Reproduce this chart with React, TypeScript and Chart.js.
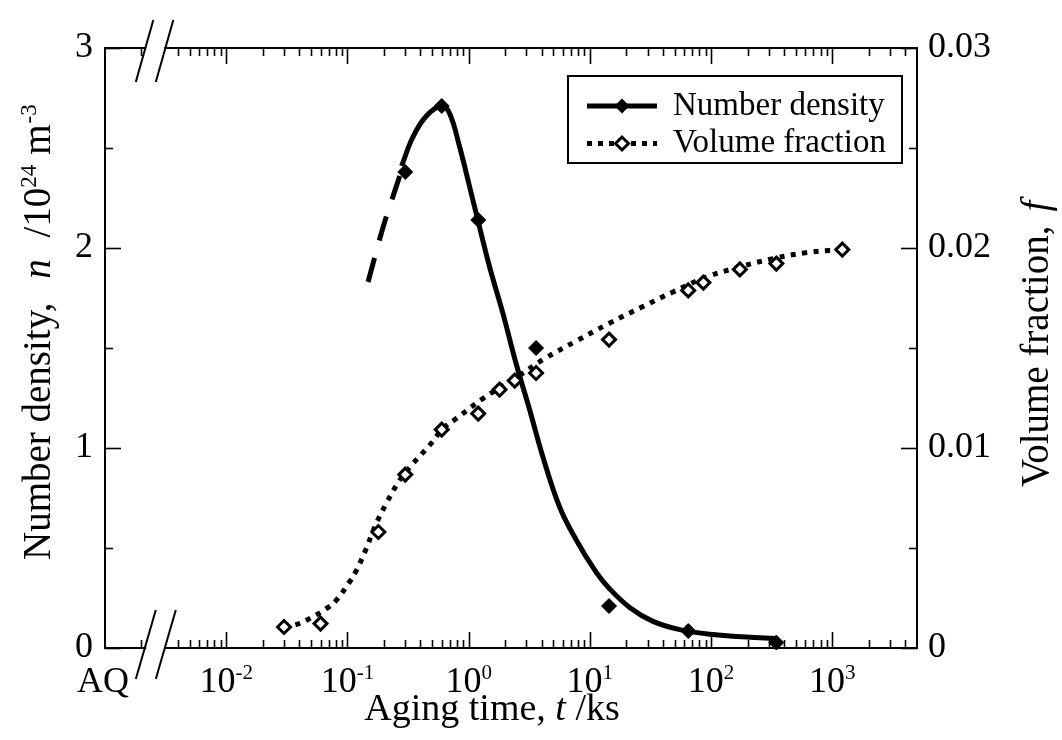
import React, { useEffect, useRef } from "react";
import { Chart, registerables } from "chart.js";

Chart.register(...registerables);

const FONT = '"Liberation Serif", "Times New Roman", serif';

// Number density markers (t in ks, n in 10^24 m^-3)
const ndTime = [0.3, 0.6, 1.2, 3.6, 14.4, 64.8, 345.6];
const ndValue = [2.38, 2.71, 2.14, 1.5, 0.21, 0.085, 0.027];

// Number density fitted curve (solid)
const ndCurveTime = [0.28, 0.347, 0.448, 0.6, 0.697, 0.843, 1.02, 1.19, 1.49, 1.92, 2.47, 3.19, 4.1, 5.63, 7.74, 11.3, 14.4, 21.3, 33.2, 55.1, 104, 195, 340];
const ndCurveValue = [2.41, 2.555, 2.66, 2.71, 2.672, 2.505, 2.305, 2.14, 1.905, 1.672, 1.42, 1.19, 0.955, 0.705, 0.539, 0.378, 0.299, 0.203, 0.133, 0.092, 0.067, 0.055, 0.047];

// Number density extrapolation (dashed)
const ndDashTime = [0.148, 0.196, 0.27];
const ndDashValue = [1.83, 2.1, 2.36];

// Volume fraction markers
const vfTime = [0.03, 0.06, 0.18, 0.3, 0.6, 1.2, 1.8, 2.4, 3.6, 14.4, 64.8, 86.4, 172.8, 345.6, 1209.6];
const vfValue = [0.00105, 0.00122, 0.0058, 0.00867, 0.01092, 0.01172, 0.01292, 0.01337, 0.01375, 0.01542, 0.01788, 0.01827, 0.01893, 0.01922, 0.01992];

// Volume fraction fitted curve (dotted)
const vfCurveTime = [0.03, 0.037, 0.046, 0.067, 0.081, 0.104, 0.118, 0.143, 0.168, 0.209, 0.27, 0.347, 0.477, 0.614, 0.79, 1.31, 2.05, 2.55, 4.24, 7.74, 14.6, 27.4, 48.5, 91.4, 172, 324, 611, 946, 1200];
const vfCurveValue = [0.00105, 0.00115, 0.00139, 0.00197, 0.00239, 0.0033, 0.00385, 0.00497, 0.00605, 0.00722, 0.00839, 0.00922, 0.01014, 0.01097, 0.01147, 0.01247, 0.01322, 0.01358, 0.01447, 0.01535, 0.01625, 0.01707, 0.0178, 0.01855, 0.01905, 0.01947, 0.01977, 0.01988, 0.0199];

// Axes
const xMin = 0.001;
const xMax = 5000;
const xBreakAt = 0.0026;
const xMajorTicks = [0.01, 0.1, 1, 10, 100, 1000];
const xMinorTicks = [
  0.002, 0.004, 0.005, 0.006, 0.007, 0.008, 0.009,
  0.02, 0.03, 0.04, 0.05, 0.06, 0.07, 0.08, 0.09,
  0.2, 0.3, 0.4, 0.5, 0.6, 0.7, 0.8, 0.9,
  2, 3, 4, 5, 6, 7, 8, 9,
  20, 30, 40, 50, 60, 70, 80, 90,
  200, 300, 400, 500, 600, 700, 800, 900,
  2000, 3000, 4000,
];
const xLabelValues = [0.001, 0.01, 0.1, 1, 10, 100, 1000];
const xLabelBase = ["AQ", "10", "10", "10", "10", "10", "10"];
const xLabelExp = ["", "-2", "-1", "0", "1", "2", "3"];

const yMajorTicks = [0, 1, 2, 3];
const yMinorTicks = [0.5, 1.5, 2.5];
const yLabels = ["0", "1", "2", "3"];
const y2Labels = ["0", "0.01", "0.02", "0.03"];
const y2LabelValues = [0, 0.01, 0.02, 0.03];

type Part = { t: string; it?: boolean; sup?: boolean; gap?: number };

function fontFor(p: Part, size: number) {
  const s = p.sup ? Math.round(size * 0.58) : size;
  return `${p.it ? "italic " : ""}${s}px ${FONT}`;
}

function drawRich(ctx: CanvasRenderingContext2D, parts: Part[], x: number, y: number, size: number, align: "left" | "center" | "right") {
  let total = 0;
  const widths: number[] = [];
  for (const p of parts) {
    ctx.font = fontFor(p, size);
    const w = ctx.measureText(p.t).width + (p.gap || 0);
    widths.push(w);
    total += w;
  }
  let cx = align === "left" ? x : align === "center" ? x - total / 2 : x - total;
  ctx.textAlign = "left";
  ctx.textBaseline = "alphabetic";
  parts.forEach((p, i) => {
    ctx.font = fontFor(p, size);
    ctx.fillText(p.t, cx + (p.gap || 0), p.sup ? y - size * 0.36 : y);
    cx += widths[i];
  });
}

function seg(ctx: CanvasRenderingContext2D, x1: number, y1: number, x2: number, y2: number) {
  ctx.beginPath();
  ctx.moveTo(x1, y1);
  ctx.lineTo(x2, y2);
  ctx.stroke();
}

function diamond(ctx: CanvasRenderingContext2D, x: number, y: number, r: number) {
  ctx.beginPath();
  ctx.moveTo(x - r, y);
  ctx.lineTo(x, y - r);
  ctx.lineTo(x + r, y);
  ctx.lineTo(x, y + r);
  ctx.closePath();
}

const deco = {
  id: "deco",
  afterDraw(chart: any) {
    const ctx: CanvasRenderingContext2D = chart.ctx;
    const { left, right, top, bottom } = chart.chartArea;
    const xs = chart.scales.x;
    const ys = chart.scales.y;
    const y2s = chart.scales.y2;
    ctx.save();
    ctx.strokeStyle = "#000";
    ctx.fillStyle = "#000";
    ctx.lineCap = "butt";

    // frame
    ctx.lineWidth = 2;
    ctx.strokeRect(left, top, right - left, bottom - top);

    // x ticks
    ctx.lineWidth = 1.6;
    for (const v of xMajorTicks) {
      const px = Math.round(xs.getPixelForValue(v)) + 0.5;
      seg(ctx, px, bottom, px, bottom - 16);
      seg(ctx, px, top, px, top + 16);
    }
    for (const v of xMinorTicks) {
      const px = Math.round(xs.getPixelForValue(v)) + 0.5;
      seg(ctx, px, bottom, px, bottom - 8);
      seg(ctx, px, top, px, top + 8);
    }
    // y ticks
    for (const v of yMajorTicks) {
      const py = Math.round(ys.getPixelForValue(v)) + 0.5;
      seg(ctx, left, py, left + 16, py);
      seg(ctx, right, py, right - 16, py);
    }
    for (const v of yMinorTicks) {
      const py = Math.round(ys.getPixelForValue(v)) + 0.5;
      seg(ctx, left, py, left + 8, py);
      seg(ctx, right, py, right - 8, py);
    }

    // axis break
    const bx = xs.getPixelForValue(xBreakAt);
    ctx.fillStyle = "#fff";
    ctx.fillRect(bx - 9, top - 2, 18, 4);
    ctx.fillRect(bx - 9, bottom - 2, 18, 4);
    ctx.fillStyle = "#000";
    ctx.lineWidth = 2;
    for (const dx of [-10, 10]) {
      seg(ctx, bx + dx + 10.5, bottom - 38, bx + dx - 9.5, bottom + 31);
      seg(ctx, bx + dx + 8, top - 28, bx + dx - 9.5, top + 34);
    }

    // x tick labels
    xLabelValues.forEach((v, i) => {
      const px = xs.getPixelForValue(v);
      const parts: Part[] = [{ t: xLabelBase[i] }];
      if (xLabelExp[i]) parts.push({ t: xLabelExp[i], sup: true });
      drawRich(ctx, parts, i === 0 ? px - 2 : px, bottom + 44, 36, "center");
    });

    // y tick labels
    ctx.font = `36px ${FONT}`;
    ctx.textBaseline = "middle";
    ctx.textAlign = "right";
    yMajorTicks.forEach((v, i) => {
      ctx.fillText(yLabels[i], left - 12, ys.getPixelForValue(v));
    });
    ctx.textAlign = "left";
    y2LabelValues.forEach((v, i) => {
      ctx.fillText(y2Labels[i], right + 11, y2s.getPixelForValue(v));
    });

    // axis titles
    drawRich(ctx, [{ t: "Aging time, " }, { t: "t", it: true }, { t: " /ks" }], (left + right) / 2 - 19, bottom + 72, 38, "center");

    ctx.save();
    ctx.translate(50, bottom - 88);
    ctx.rotate(-Math.PI / 2);
    drawRich(ctx, [
      { t: "Number density, " },
      { t: "n", it: true, gap: 14 },
      { t: " /10", gap: 12 },
      { t: "24", sup: true },
      { t: "m", gap: 10 },
      { t: "-3", sup: true, gap: 1 },
    ], 0, 0, 39, "left");
    ctx.restore();

    ctx.save();
    ctx.translate(right + 131, bottom - 161);
    ctx.rotate(-Math.PI / 2);
    drawRich(ctx, [{ t: "Volume fraction," }, { t: "f", it: true, gap: 14 }], 0, 0, 39, "left");
    ctx.restore();

    // legend
    const lx = right - 349;
    const ly = top + 28;
    const lw = 334;
    const lh = 87;
    ctx.fillStyle = "#fff";
    ctx.fillRect(lx, ly, lw, lh);
    ctx.lineWidth = 2;
    ctx.strokeStyle = "#000";
    ctx.strokeRect(lx, ly, lw, lh);
    const r1 = ly + 30;
    const r2 = ly + 67.5;
    ctx.lineWidth = 5;
    seg(ctx, lx + 19, r1, lx + 89, r1);
    ctx.setLineDash([5, 6]);
    seg(ctx, lx + 19, r2, lx + 89, r2);
    ctx.setLineDash([]);
    ctx.fillStyle = "#000";
    diamond(ctx, lx + 54, r1, 7.5);
    ctx.fill();
    diamond(ctx, lx + 54, r2, 6.5);
    ctx.fillStyle = "#fff";
    ctx.fill();
    ctx.lineWidth = 3;
    ctx.stroke();
    ctx.fillStyle = "#000";
    ctx.font = `33px ${FONT}`;
    ctx.textAlign = "left";
    ctx.textBaseline = "alphabetic";
    ctx.fillText("Number density", lx + 105, ly + 39);
    ctx.fillText("Volume fraction", lx + 105, ly + 76);

    ctx.restore();
  },
};

export default function App() {
  const ref = useRef<HTMLCanvasElement>(null);
  useEffect(() => {
    const pts = (xs: number[], ys: number[]) => xs.map((x, i) => ({ x, y: ys[i] }));
    const chart = new Chart(ref.current as HTMLCanvasElement, {
      type: "line",
      data: {
        datasets: [
          {
            label: "Number density",
            data: pts(ndTime, ndValue),
            showLine: false,
            pointStyle: "rectRot",
            pointRadius: 7.5,
            pointBackgroundColor: "#000",
            pointBorderColor: "#000",
            pointBorderWidth: 1,
            yAxisID: "y",
            order: 0,
            clip: false,
          } as any,
          {
            label: "Volume fraction",
            data: pts(vfTime, vfValue),
            showLine: false,
            pointStyle: "rectRot",
            pointRadius: 6.5,
            pointBackgroundColor: "#fff",
            pointBorderColor: "#000",
            pointBorderWidth: 3,
            yAxisID: "y2",
            order: 0,
            clip: false,
          } as any,
          {
            label: "nd curve",
            data: pts(ndCurveTime, ndCurveValue),
            borderColor: "#000",
            borderWidth: 5,
            pointRadius: 0,
            tension: 0.4,
            fill: false,
            yAxisID: "y",
            order: 1,
            clip: false,
          } as any,
          {
            label: "nd dash",
            data: pts(ndDashTime, ndDashValue),
            borderColor: "#000",
            borderWidth: 5,
            borderDash: [25, 18],
            pointRadius: 0,
            tension: 0.3,
            fill: false,
            yAxisID: "y",
            order: 1,
          } as any,
          {
            label: "vf curve",
            data: pts(vfCurveTime, vfCurveValue),
            borderColor: "#000",
            borderWidth: 5,
            borderDash: [5, 6.5],
            pointRadius: 0,
            tension: 0.4,
            fill: false,
            yAxisID: "y2",
            order: 1,
          } as any,
        ],
      },
      options: {
        animation: false,
        responsive: false,
        layout: { padding: { left: 105, right: 145, top: 48, bottom: 92 } },
        plugins: { legend: { display: false }, tooltip: { enabled: false } },
        scales: {
          x: { type: "logarithmic", min: xMin, max: xMax, display: false },
          y: { type: "linear", min: 0, max: 3, display: false },
          y2: { type: "linear", min: 0, max: 0.03, display: false, position: "right" },
        },
      },
      plugins: [deco],
    });
    return () => chart.destroy();
  }, []);
  return (
    <div style={{ position: "fixed", left: 0, top: 0, width: 1062, height: 740, background: "#fff" }}>
      <canvas ref={ref} width={1062} height={740} style={{ display: "block" }} />
    </div>
  );
}
